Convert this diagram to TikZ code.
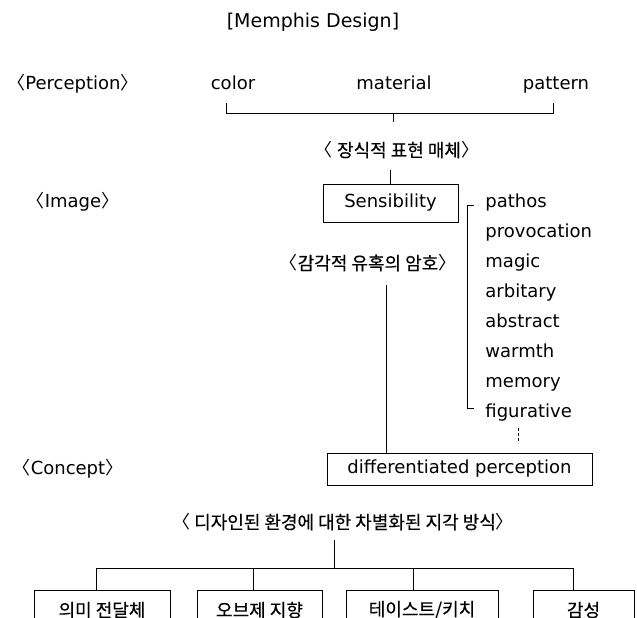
\documentclass[tikz,border=0pt]{standalone}
\usepackage{fontspec}
\setmainfont{DejaVu Sans}
\newfontfamily\krfont{Noto Sans CJK KR}[FakeBold=0.4]
\newfontfamily\krbr{Noto Sans CJK KR}
\newcommand{\lb}{{\krbr 〈}}
\newcommand{\rb}{{\krbr 〉}}
\begin{document}
\begin{tikzpicture}[x=1pt,y=-1pt,line width=0.9pt,
  lat/.style={font=\fontsize{18}{21}\selectfont,inner sep=0pt,text height=13pt,text depth=4pt},
  krs/.style={font=\krfont\fontsize{18}{20}\selectfont,inner sep=0pt},
  krb/.style={font=\krfont\fontsize{18}{20}\selectfont,inner sep=0pt},
  boxed/.style={draw,inner sep=0pt}]
\useasboundingbox (0,0) rectangle (637,618);
% top
\node[lat,font=\fontsize{19}{21}\selectfont] (title) at (313,23) {[Memphis Design]};
\node[lat] (perc) at (73,85) {\lb Perception\rb};
\node[lat] (color) at (233,85) {color};
\node[lat] (material) at (394,85) {material};
\node[lat] (pattern) at (556,85) {pattern};
\coordinate (cL) at (226,103);
\coordinate (cR) at (553,103);
\draw (cL) -- ++(0,10) -| (cR);
\coordinate (tickA) at (393,114);
\draw (tickA) -- ++(0,8);
\node[krs] (deco) at (397,150) {\lb\ 장식적 표현 매체\rb};
% image level
\node[lat] (image) at (73,203) {\lb Image\rb};
\node[lat,boxed,minimum width=135,minimum height=38] (sens) at (390.5,203) {Sensibility};
\draw (sens.north) -- ++(0,-14);
\foreach \w [count=\i from 0] in {pathos,provocation,magic,arbitary,abstract,warmth,memory,figurative}
  \node[lat,anchor=west] (w\i) at (485,203+30*\i) {\w};
\draw ([xshift=-11pt,yshift=-2pt]w0.west) -| ([xshift=-18pt,yshift=5pt]w7.west) -- ([xshift=-11pt,yshift=5pt]w7.west);
\draw[dash pattern=on 2.5pt off 2.5pt] (518,428) -- (518,443);
\node[krs] (seduce) at (368,263) {\lb 감각적 유혹의 암호\rb};
% concept
\node[lat] (concept) at (68,470) {\lb Concept\rb};
\node[lat,boxed,minimum width=265,minimum height=32] (diff) at (459.5,469) {differentiated perception};
\coordinate (vtop) at (386,285);
\draw (vtop) -- (vtop |- diff.north);
\node[krs] (mode) at (343,522) {\lb\ 디자인된 환경에 대한 차별화된 지각 방식\rb};
% bottom tree
\coordinate (hub) at (334,568);
\draw (334,540) -- (hub);
\draw (96,590) |- (573,568) -- (573,590);
\draw (253,568) -- (253,590);
\draw (413,568) -- (413,590);
\begin{scope}
\clip (0,0) rectangle (637,618);
\node[krb,boxed,minimum width=136,minimum height=40] (b1) at (102,610) {의미 전달체};
\node[krb,boxed,minimum width=125,minimum height=40] (b2) at (259.5,610) {오브제 지향};
\node[krb,boxed,minimum width=152,minimum height=40] (b3) at (422,610) {테이스트/키치};
\node[krb,boxed,minimum width=101,minimum height=40] (b4) at (583.5,610) {감성};
\end{scope}
\end{tikzpicture}
\end{document}
